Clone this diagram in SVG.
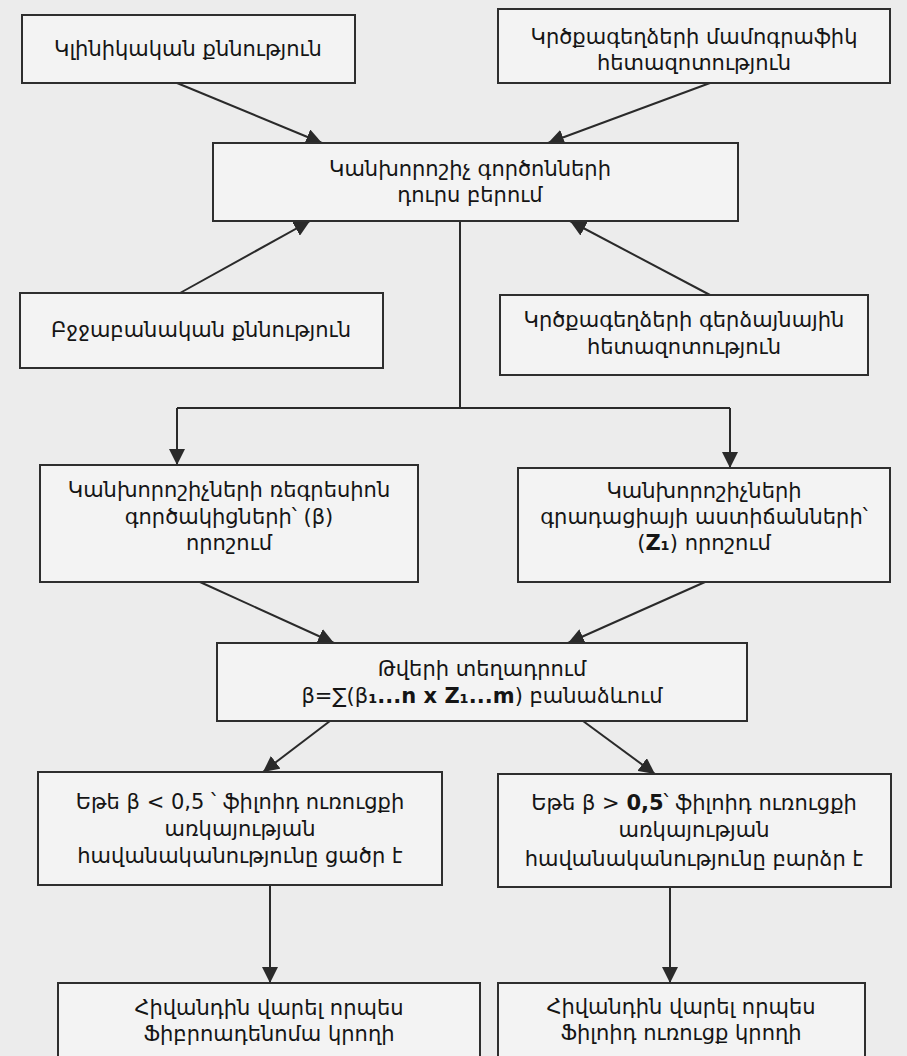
<svg xmlns="http://www.w3.org/2000/svg" width="907" height="1056" viewBox="0 0 907 1056">
<style>
.bg{fill:#ececec}
.box{fill:#f3f3f3;stroke:#2e2e2e;stroke-width:2}
.t{font-family:"DejaVu Sans","Noto Sans",sans-serif;font-size:21px;fill:#151515;text-anchor:middle}
.c{stroke:#2a2a2a;stroke-width:2;fill:none}
.a{marker-end:url(#arr)}
</style>
<defs>
<marker id="arr" markerUnits="userSpaceOnUse" markerWidth="16" markerHeight="16" viewBox="0 0 10 10" refX="10" refY="5" orient="auto">
<path d="M0,0 L10,5 L0,10 z" fill="#2a2a2a"/>
</marker>
</defs>
<rect class="bg" x="0" y="0" width="907" height="1056"/>
<g id="connectors">
<line class="c a" x1="177" y1="83" x2="322" y2="143"/>
<line class="c a" x1="710" y1="83" x2="548" y2="143"/>
<line class="c a" x1="180" y1="293" x2="310" y2="221"/>
<line class="c a" x1="710" y1="295" x2="570" y2="221"/>
<path class="c" d="M460,221 V408 M177,408 H730"/>
<line class="c a" x1="177" y1="408" x2="177" y2="465"/>
<line class="c a" x1="730" y1="408" x2="730" y2="468"/>
<line class="c a" x1="200" y1="582" x2="334" y2="643"/>
<line class="c a" x1="705" y1="582" x2="568" y2="643"/>
<line class="c a" x1="330" y1="721" x2="263" y2="772"/>
<line class="c a" x1="583" y1="721" x2="655" y2="774"/>
<line class="c a" x1="270" y1="885" x2="270" y2="983"/>
<line class="c a" x1="670" y1="887" x2="670" y2="983"/>
</g>
<g id="n1"><rect class="box" x="22" y="15" width="333" height="68"/>
<text class="t" x="188" y="56">Կլինիկական քննություն</text></g>
<g id="n2"><rect class="box" x="498" y="9" width="392" height="74"/>
<text class="t" x="694" y="44">Կրծքագեղձերի մամոգրաֆիկ</text>
<text class="t" x="694" y="70">հետազոտություն</text></g>
<g id="n3"><rect class="box" x="213" y="143" width="525" height="78"/>
<text class="t" x="470" y="176">Կանխորոշիչ գործոնների</text>
<text class="t" x="470" y="202">դուրս բերում</text></g>
<g id="n4"><rect class="box" x="20" y="293" width="363" height="75"/>
<text class="t" x="201" y="337">Բջջաբանական քննություն</text></g>
<g id="n5"><rect class="box" x="500" y="295" width="368" height="80"/>
<text class="t" x="684" y="327">Կրծքագեղձերի գերձայնային</text>
<text class="t" x="684" y="354">հետազոտություն</text></g>
<g id="n6"><rect class="box" x="40" y="465" width="378" height="117"/>
<text class="t" x="229" y="497">Կանխորոշիչների ռեգրեսիոն</text>
<text class="t" x="229" y="524">գործակիցների՝ (β)</text>
<text class="t" x="229" y="550">որոշում</text></g>
<g id="n7"><rect class="box" x="518" y="468" width="372" height="114"/>
<text class="t" x="704" y="498">Կանխորոշիչների</text>
<text class="t" x="704" y="524">գրադացիայի աստիճանների՝</text>
<text class="t" x="704" y="550">(<tspan font-weight="bold">Z₁</tspan>) որոշում</text></g>
<g id="n8"><rect class="box" x="217" y="643" width="530" height="78"/>
<text class="t" x="482" y="676">Թվերի տեղադրում</text>
<text class="t" x="482" y="703">β=∑(β<tspan font-weight="bold">₁...n x Z₁...m</tspan>) բանաձևում</text></g>
<g id="n9"><rect class="box" x="38" y="772" width="404" height="113"/>
<text class="t" x="240" y="809">Եթե β &lt; 0,5 ՝ ֆիլոիդ ուռուցքի</text>
<text class="t" x="240" y="836">առկայության</text>
<text class="t" x="240" y="863">հավանականությունը ցածր է</text></g>
<g id="n10"><rect class="box" x="498" y="774" width="393" height="113"/>
<text class="t" x="694" y="810">Եթե β &gt; <tspan font-weight="bold">0,5</tspan>՝ ֆիլոիդ ուռուցքի</text>
<text class="t" x="694" y="837">առկայության</text>
<text class="t" x="694" y="866">հավանականությունը բարձր է</text></g>
<g id="n11"><rect class="box" x="58" y="983" width="422" height="90"/>
<text class="t" x="269" y="1015">Հիվանդին վարել որպես</text>
<text class="t" x="269" y="1041">Ֆիբրոադենոմա կրողի</text></g>
<g id="n12"><rect class="box" x="498" y="983" width="367" height="90"/>
<text class="t" x="681" y="1014">Հիվանդին վարել որպես</text>
<text class="t" x="681" y="1040">Ֆիլոիդ ուռուցք կրողի</text></g>
</svg>
